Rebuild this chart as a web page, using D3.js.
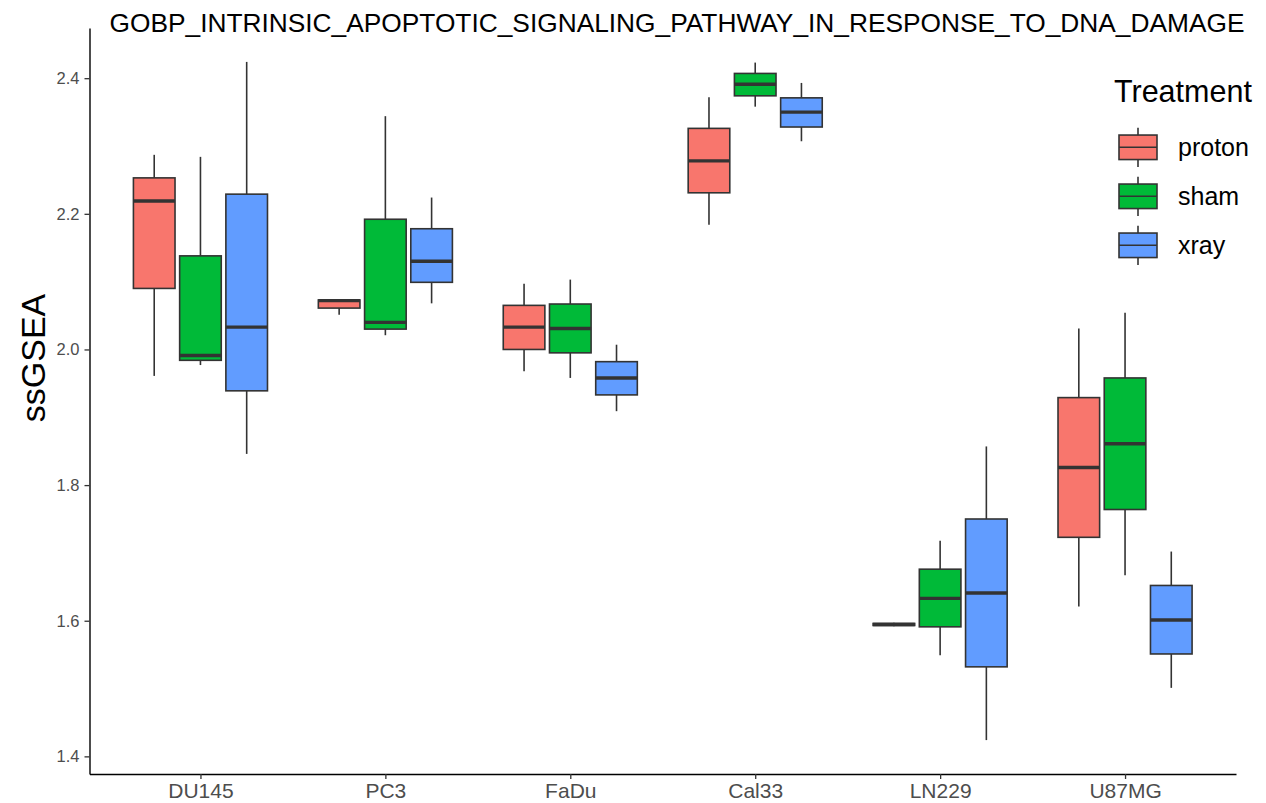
<!DOCTYPE html>
<html>
<head>
<meta charset="utf-8">
<script src="https://cdn.jsdelivr.net/npm/d3@7"></script>
<style>
  body { margin: 0; background: #fff; }
  svg { display: block; font-family: "Liberation Sans", Arial, sans-serif; }
</style>
</head>
<body>
<svg id="chart"></svg>
<script>
// five-number summaries: [lower whisker, q1, median, q3, upper whisker]
const cellLines = ["DU145", "PC3", "FaDu", "Cal33", "LN229", "U87MG"];
const treatments = ["proton", "sham", "xray"];
const colors = ["#F8766D", "#00BA38", "#619CFF"];

const proton = [
  [1.961, 2.090, 2.219, 2.253, 2.287],
  [2.051, 2.061, 2.072, 2.073, 2.073],
  [1.968, 2.000, 2.033, 2.065, 2.097],
  [2.184, 2.231, 2.278, 2.326, 2.372],
  [1.592, 1.593, 1.5945, 1.596, 1.597],
  [1.621, 1.723, 1.826, 1.929, 2.031],
];
const sham = [
  [1.977, 1.984, 1.991, 2.138, 2.284],
  [2.021, 2.030, 2.040, 2.192, 2.344],
  [1.958, 1.995, 2.031, 2.067, 2.103],
  [2.358, 2.374, 2.391, 2.407, 2.423],
  [1.549, 1.591, 1.633, 1.676, 1.718],
  [1.667, 1.764, 1.861, 1.958, 2.054],
];
const xray = [
  [1.846, 1.939, 2.033, 2.229, 2.424],
  [2.068, 2.099, 2.130, 2.178, 2.224],
  [1.909, 1.933, 1.958, 1.982, 2.007],
  [2.307, 2.328, 2.350, 2.371, 2.393],
  [1.424, 1.532, 1.641, 1.750, 1.857],
  [1.501, 1.551, 1.601, 1.652, 1.702],
];
const yTicks = [1.4, 1.6, 1.8, 2.0, 2.2, 2.4];

document.addEventListener("DOMContentLoaded", function () {
  const svgWidth = 1266;
  const svgHeight = 803;
  const panel = { left: 89.5, right: 1236, top: 28, bottom: 774 };

  const series = [proton, sham, xray];
  const boxes = [];
  cellLines.forEach((cell, i) => {
    treatments.forEach((t, j) => {
      const s = series[j][i];
      boxes.push({ cell: cell, treatment: t, color: colors[j],
        lo: s[0], q1: s[1], med: s[2], q3: s[3], hi: s[4] });
    });
  });

  const svg = d3.select("#chart")
    .attr("width", svgWidth)
    .attr("height", svgHeight);

  // scales (ggplot-like 5% expansion on y, 0.6 on discrete x)
  const lo = d3.min(boxes, (d) => d.lo);
  const hi = d3.max(boxes, (d) => d.hi);
  const pad = (hi - lo) * 0.05;
  const y = d3.scaleLinear()
    .domain([lo - pad, hi + pad])
    .range([panel.bottom, panel.top]);

  const x = d3.scalePoint()
    .domain(cellLines)
    .range([panel.left, panel.right])
    .padding(0.6);
  const step = x.step();
  const xSub = d3.scaleBand()
    .domain(treatments)
    .range([-0.375 * step, 0.375 * step]);
  const boxW = xSub.bandwidth() * 0.9;

  // boxes
  const g = svg.append("g");
  const box = g.selectAll(".box")
    .data(boxes)
    .enter()
    .append("g")
    .attr("class", "box")
    .attr("transform", (d) => "translate(" + (x(d.cell) + xSub(d.treatment) + xSub.bandwidth() / 2) + ",0)");

  box.append("line")
    .attr("x1", 0).attr("x2", 0)
    .attr("y1", (d) => y(d.hi)).attr("y2", (d) => y(d.q3))
    .attr("stroke", "#333333").attr("stroke-width", 1.6);
  box.append("line")
    .attr("x1", 0).attr("x2", 0)
    .attr("y1", (d) => y(d.q1)).attr("y2", (d) => y(d.lo))
    .attr("stroke", "#333333").attr("stroke-width", 1.6);
  box.append("rect")
    .attr("x", -boxW / 2)
    .attr("width", boxW)
    .attr("y", (d) => y(d.q3))
    .attr("height", (d) => Math.max(0.1, y(d.q1) - y(d.q3)))
    .attr("fill", (d) => d.color)
    .attr("stroke", "#333333")
    .attr("stroke-width", 1.6);
  box.append("line")
    .attr("x1", -boxW / 2).attr("x2", boxW / 2)
    .attr("y1", (d) => y(d.med)).attr("y2", (d) => y(d.med))
    .attr("stroke", "#333333").attr("stroke-width", 3.4);

  // axes
  const yAxis = svg.append("g")
    .attr("transform", "translate(" + panel.left + ",0)")
    .call(d3.axisLeft(y).tickValues(yTicks).tickFormat(d3.format(".1f")).tickSize(5).tickSizeOuter(0).tickPadding(5));
  yAxis.selectAll("text")
    .attr("fill", "#4D4D4D")
    .style("font-size", "16.5px")
    .style("font-family", "Liberation Sans, Arial, sans-serif");

  const xAxis = svg.append("g")
    .attr("transform", "translate(0," + panel.bottom + ")")
    .call(d3.axisBottom(x).tickSize(5).tickSizeOuter(0).tickPadding(4));
  xAxis.selectAll("text")
    .attr("fill", "#4D4D4D")
    .style("font-size", "21px")
    .style("font-family", "Liberation Sans, Arial, sans-serif");

  svg.selectAll(".domain").attr("stroke", "#000").attr("stroke-width", 1.4);
  svg.selectAll(".tick line").attr("stroke", "#333333").attr("stroke-width", 1.3);

  // title and axis label
  svg.append("text")
    .attr("x", 677)
    .attr("y", 32)
    .attr("text-anchor", "middle")
    .style("font-size", "26.3px")
    .text("GOBP_INTRINSIC_APOPTOTIC_SIGNALING_PATHWAY_IN_RESPONSE_TO_DNA_DAMAGE");

  svg.append("text")
    .attr("transform", "rotate(-90)")
    .attr("x", -358)
    .attr("y", 45)
    .attr("text-anchor", "middle")
    .style("font-size", "34px")
    .text("ssGSEA");

  // legend
  const legend = svg.append("g").attr("transform", "translate(1114,0)");
  legend.append("text")
    .attr("x", 0)
    .attr("y", 102)
    .style("font-size", "30.5px")
    .text("Treatment");

  const keySize = 49;
  const key = legend.selectAll(".key")
    .data(treatments)
    .enter()
    .append("g")
    .attr("class", "key")
    .attr("transform", (d, i) => "translate(0," + (122.8 + i * keySize) + ")");

  key.append("line")
    .attr("x1", 24).attr("x2", 24)
    .attr("y1", keySize * 0.1).attr("y2", keySize * 0.9)
    .attr("stroke", "#333333").attr("stroke-width", 1.6);
  key.append("rect")
    .attr("x", 5).attr("width", 38)
    .attr("y", keySize * 0.25).attr("height", keySize * 0.5)
    .attr("fill", (d, i) => colors[i])
    .attr("stroke", "#333333").attr("stroke-width", 1.6);
  key.append("line")
    .attr("x1", 5).attr("x2", 43)
    .attr("y1", keySize / 2).attr("y2", keySize / 2)
    .attr("stroke", "#333333").attr("stroke-width", 1.6);
  key.append("text")
    .attr("x", 64)
    .attr("y", keySize / 2)
    .attr("dy", "0.35em")
    .style("font-size", "25px")
    .text((d) => d);
});
</script>
</body>
</html>
